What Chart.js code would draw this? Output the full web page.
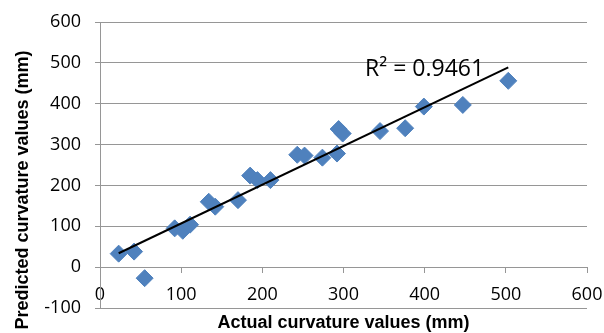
<!DOCTYPE html>
<html>
<head>
<meta charset="utf-8">
<script src="https://cdn.jsdelivr.net/npm/chart.js@4.4.1/dist/chart.umd.min.js"></script>
<style>
  html, body { margin: 0; padding: 0; background: #fff; }
  #wrap { width: 604px; height: 333px; }
</style>
</head>
<body>
<div id="wrap"><canvas id="chart"></canvas></div>
<script>
// values
const actualX = [23, 42, 55, 92, 102, 111, 134, 142, 170, 185, 194, 210, 243, 252, 274, 292, 294, 299, 345, 376, 399, 447, 503];
const predictedY = [33, 38, -27, 95, 89, 104, 160, 148, 164, 224, 213, 213, 275, 273, 268, 278, 338, 327, 333, 340, 393, 397, 456];
const trendX = [23, 503];
const trendY = [34, 489];
const xTicks = [0, 100, 200, 300, 400, 500, 600];
const yTicks = [-100, 0, 100, 200, 300, 400, 500, 600];
const r2Label = 'R² = 0.9461';
const xTitle = 'Actual curvature values (mm)';
const yTitle = 'Predicted curvature values (mm)';

const gridGray = '#969696';
const blue = '#4F81BD';

// axis titles + R² text drawn on the canvas
const textPlugin = {
    id: 'texts',
    afterDraw(chart) {
        const ctx = chart.ctx;
        const area = chart.chartArea;
        ctx.save();
        ctx.fillStyle = '#000';
        ctx.font = 'bold 18px "Liberation Sans", Arial, sans-serif';
        ctx.textAlign = 'center';
        ctx.textBaseline = 'middle';
        ctx.fillText(xTitle, (area.left + area.right) / 2, 323);

        ctx.translate(23, 190);
        ctx.rotate(-Math.PI / 2);
        ctx.fillText(yTitle, 0, 0);
        ctx.restore();

        ctx.save();
        ctx.font = '23px "Open Sans", sans-serif';
        ctx.fillStyle = '#000';
        ctx.textAlign = 'left';
        ctx.textBaseline = 'alphabetic';
        ctx.fillText(r2Label, 365, 76);
        ctx.restore();
    }
};

new Chart(document.getElementById('chart'), {
    type: 'scatter',
    data: {
        datasets: [{
            label: 'points',
            data: actualX.map((x, i) => ({ x: x, y: predictedY[i] })),
            pointStyle: 'rectRot',
            pointRadius: 8.5,
            pointBackgroundColor: blue,
            pointBorderColor: blue,
            pointBorderWidth: 1,
            order: 2
        }, {
            label: 'trend',
            type: 'line',
            data: trendX.map((x, i) => ({ x: x, y: trendY[i] })),
            borderColor: '#000',
            borderWidth: 2,
            pointRadius: 0,
            fill: false,
            order: 1
        }]
    },
    options: {
        responsive: true,
        maintainAspectRatio: false,
        animation: false,
        layout: { padding: { top: 22, right: 17, bottom: 25, left: 0 } },
        plugins: {
            legend: { display: false },
            tooltip: { enabled: false }
        },
        scales: {
            x: {
                type: 'linear',
                position: { y: 0 },
                min: 0,
                max: 600,
                afterBuildTicks: (s) => { s.ticks = xTicks.map(v => ({ value: v })); },
                afterFit: (s) => { s.paddingLeft = 0; s.paddingRight = 0; },
                grid: { drawOnChartArea: false, drawTicks: true, tickLength: 5, color: gridGray, lineWidth: 1 },
                border: { display: true, color: gridGray, width: 1 },
                ticks: { padding: 12, color: '#000', font: { family: 'Open Sans', size: 18 }, maxRotation: 0 }
            },
            y: {
                type: 'linear',
                min: -100,
                max: 600,
                afterBuildTicks: (s) => { s.ticks = yTicks.map(v => ({ value: v })); },
                afterFit: (s) => { s.width = 100; s.paddingTop = 0; s.paddingBottom = 0; },
                grid: { color: gridGray, lineWidth: 1, tickLength: 5 },
                border: { display: true, color: gridGray, width: 1 },
                ticks: { padding: 14, color: '#000', font: { family: 'Open Sans', size: 18 } }
            }
        }
    },
    plugins: [textPlugin]
});
</script>
</body>
</html>
